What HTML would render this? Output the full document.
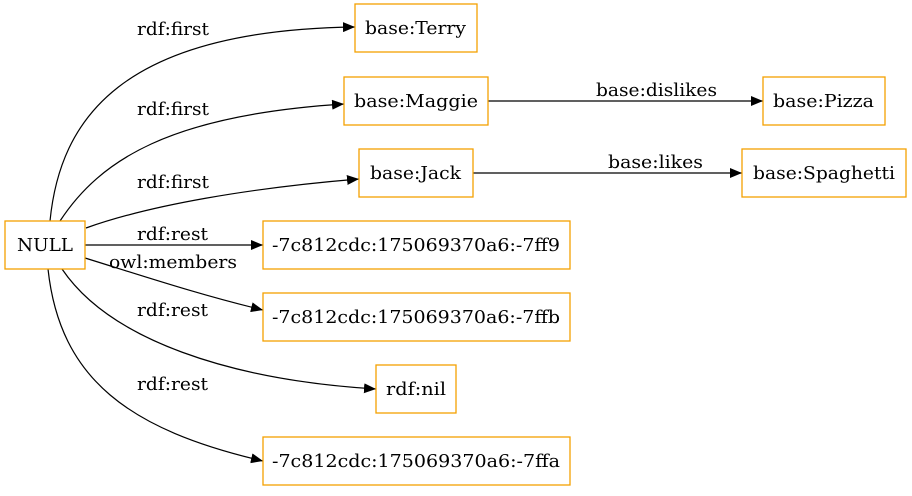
<!DOCTYPE html>
<html><head><meta charset="utf-8"><style>
html,body{margin:0;padding:0;background:#fff;}
svg text{font-family:"DejaVu Serif","Liberation Serif",serif;font-size:18px;fill:#000;}
</style></head><body>
<svg width="912" height="491" viewBox="0 0 912 491" xmlns="http://www.w3.org/2000/svg">
<defs><marker id="a" markerWidth="12" markerHeight="10" refX="12" refY="5" orient="auto" markerUnits="userSpaceOnUse"><path d="M0,0 L12,5 L0,10 Z" fill="#000"/></marker></defs>
<g fill="none" stroke="#000" stroke-width="1.2">
<path d="M50,221 C60,120 120,30 355,27" marker-end="url(#a)"/>
<path d="M60,221 C100,160 170,115 344,104" marker-end="url(#a)"/>
<path d="M86,228 C150,205 250,188 359,179" marker-end="url(#a)"/>
<path d="M85,245 L263,245" marker-end="url(#a)"/>
<path d="M85,258 C140,275 200,295 263,310" marker-end="url(#a)"/>
<path d="M62,269 C110,340 230,380 376,389" marker-end="url(#a)"/>
<path d="M48,269 C60,380 130,430 263,461" marker-end="url(#a)"/>
<path d="M488,101 L763,101" marker-end="url(#a)"/>
<path d="M473,173 L742,173" marker-end="url(#a)"/>
</g>
<g fill="#fff" stroke="#f5a000" stroke-width="1.3">
<rect x="5" y="221" width="80" height="48"/>
<rect x="355" y="4" width="122" height="48"/>
<rect x="344" y="77" width="144" height="48"/>
<rect x="763" y="77" width="122" height="48"/>
<rect x="359" y="149" width="114" height="48"/>
<rect x="742" y="149" width="164" height="48"/>
<rect x="263" y="221" width="307" height="48"/>
<rect x="263" y="293" width="307" height="48"/>
<rect x="376" y="365" width="80" height="48"/>
<rect x="263" y="437" width="307" height="48"/>
</g>
<g>
<text x="17" y="251" textLength="56" lengthAdjust="spacingAndGlyphs">NULL</text>
<text x="365" y="34" textLength="101" lengthAdjust="spacingAndGlyphs">base:Terry</text>
<text x="354" y="107" textLength="124" lengthAdjust="spacingAndGlyphs">base:Maggie</text>
<text x="773" y="107" textLength="101" lengthAdjust="spacingAndGlyphs">base:Pizza</text>
<text x="370" y="179" textLength="91" lengthAdjust="spacingAndGlyphs">base:Jack</text>
<text x="753" y="179" textLength="142" lengthAdjust="spacingAndGlyphs">base:Spaghetti</text>
<text x="272" y="251" textLength="288" lengthAdjust="spacingAndGlyphs">-7c812cdc:175069370a6:-7ff9</text>
<text x="272" y="323" textLength="288" lengthAdjust="spacingAndGlyphs">-7c812cdc:175069370a6:-7ffb</text>
<text x="386" y="395" textLength="60" lengthAdjust="spacingAndGlyphs">rdf:nil</text>
<text x="272" y="467" textLength="288" lengthAdjust="spacingAndGlyphs">-7c812cdc:175069370a6:-7ffa</text>
<text x="137" y="35" textLength="72" lengthAdjust="spacingAndGlyphs">rdf:first</text>
<text x="137" y="115" textLength="72" lengthAdjust="spacingAndGlyphs">rdf:first</text>
<text x="137" y="188" textLength="72" lengthAdjust="spacingAndGlyphs">rdf:first</text>
<text x="137" y="240" textLength="71" lengthAdjust="spacingAndGlyphs">rdf:rest</text>
<text x="109" y="268" textLength="128" lengthAdjust="spacingAndGlyphs">owl:members</text>
<text x="137" y="316" textLength="71" lengthAdjust="spacingAndGlyphs">rdf:rest</text>
<text x="137" y="390" textLength="71" lengthAdjust="spacingAndGlyphs">rdf:rest</text>
<text x="596" y="96" textLength="121" lengthAdjust="spacingAndGlyphs">base:dislikes</text>
<text x="608" y="168" textLength="95" lengthAdjust="spacingAndGlyphs">base:likes</text>
</g>
</svg>
</body></html>
